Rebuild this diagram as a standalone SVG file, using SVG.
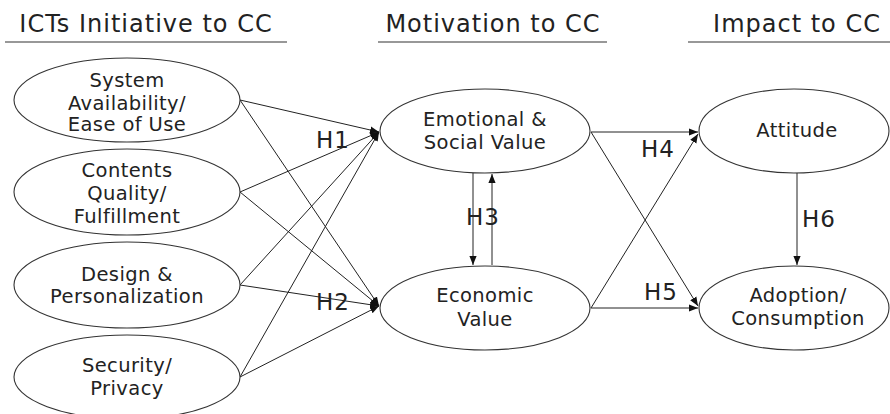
<svg xmlns="http://www.w3.org/2000/svg" width="890" height="414" viewBox="0 0 890 414">
  <defs>
    <marker id="arrow" viewBox="0 0 10 10" refX="10" refY="5" markerWidth="9" markerHeight="9" markerUnits="userSpaceOnUse" orient="auto">
      <path d="M0,1 L10,5 L0,9 Z" fill="#111"/>
    </marker>
    <style>
      .node ellipse { fill: #fff; stroke: #333; stroke-width: 1.1; }
      .node text { font-family: "DejaVu Sans", "Noto Sans", sans-serif; font-size: 19.5px; letter-spacing: 0.4px; fill: #222; text-anchor: middle; }
      .hdr text { font-family: "DejaVu Sans", "Noto Sans", sans-serif; font-size: 24px; letter-spacing: 1px; fill: #222; text-anchor: middle; }
      .hdr line { stroke: #333; stroke-width: 1.2; }
      .lbl { font-family: "DejaVu Sans", "Noto Sans", sans-serif; font-size: 23px; letter-spacing: 1px; fill: #222; }
      #connectors line { stroke: #222; stroke-width: 1; fill: none; }
      #connectors .arr { marker-end: url(#arrow); }
    </style>
  </defs>
  <rect width="890" height="414" fill="#fff"/>

  <!-- column headings -->
  <g class="hdr" id="headings">
    <text x="146" y="32">ICTs Initiative to CC</text>
    <line x1="5" y1="42" x2="287" y2="42"/>
    <text x="493" y="32">Motivation to CC</text>
    <line x1="378" y1="42" x2="607" y2="42"/>
    <text x="797" y="32">Impact to CC</text>
    <line x1="688" y1="42" x2="890" y2="42"/>
  </g>

  <!-- connectors -->
  <g id="connectors">
    <line class="arr" x1="240" y1="100" x2="379" y2="132"/>
    <line class="arr" x1="240" y1="100" x2="379" y2="306"/>
    <line class="arr" x1="240" y1="192" x2="379" y2="132"/>
    <line class="arr" x1="240" y1="192" x2="379" y2="306"/>
    <line class="arr" x1="240" y1="285" x2="379" y2="132"/>
    <line class="arr" x1="240" y1="285" x2="379" y2="306"/>
    <line class="arr" x1="240" y1="377" x2="379" y2="132"/>
    <line class="arr" x1="240" y1="377" x2="379" y2="306"/>
    <line class="arr" x1="473" y1="173" x2="473" y2="265"/>
    <line class="arr" x1="492" y1="265" x2="492" y2="174"/>
    <line class="arr" x1="591" y1="132" x2="698" y2="132"/>
    <line class="arr" x1="591" y1="308" x2="698" y2="308"/>
    <line class="arr" x1="591" y1="132" x2="698" y2="306"/>
    <line class="arr" x1="591" y1="308" x2="698" y2="134"/>
    <line class="arr" x1="797" y1="173" x2="797" y2="265"/>
  </g>

  <!-- hypothesis labels -->
  <g id="labels">
    <text class="lbl" x="316" y="148">H1</text>
    <text class="lbl" x="316" y="310">H2</text>
    <text class="lbl" x="466" y="225">H3</text>
    <text class="lbl" x="641" y="157">H4</text>
    <text class="lbl" x="644" y="300">H5</text>
    <text class="lbl" x="802" y="227">H6</text>
  </g>

  <!-- ICT initiative constructs -->
  <g class="node" id="system-availability">
    <ellipse cx="127" cy="100" rx="113" ry="42"/>
    <text x="127" y="87">System</text>
    <text x="127" y="110">Availability/</text>
    <text x="127" y="131">Ease of Use</text>
  </g>
  <g class="node" id="contents-quality">
    <ellipse cx="127" cy="192" rx="113" ry="43"/>
    <text x="127" y="177">Contents</text>
    <text x="127" y="200">Quality/</text>
    <text x="127" y="223">Fulfillment</text>
  </g>
  <g class="node" id="design-personalization">
    <ellipse cx="127" cy="285" rx="113" ry="43"/>
    <text x="127" y="281">Design &amp;</text>
    <text x="127" y="303">Personalization</text>
  </g>
  <g class="node" id="security-privacy">
    <ellipse cx="127" cy="377" rx="113" ry="42"/>
    <text x="127" y="372">Security/</text>
    <text x="127" y="395">Privacy</text>
  </g>

  <!-- motivation constructs -->
  <g class="node" id="emotional-social">
    <ellipse cx="485" cy="131" rx="105" ry="42"/>
    <text x="485" y="126">Emotional &amp;</text>
    <text x="485" y="149">Social Value</text>
  </g>
  <g class="node" id="economic-value">
    <ellipse cx="485" cy="308" rx="105" ry="42"/>
    <text x="485" y="302">Economic</text>
    <text x="485" y="326">Value</text>
  </g>

  <!-- impact constructs -->
  <g class="node" id="attitude">
    <ellipse cx="794" cy="131" rx="95" ry="42"/>
    <text x="797" y="137">Attitude</text>
  </g>
  <g class="node" id="adoption">
    <ellipse cx="794" cy="308" rx="95" ry="42"/>
    <text x="798" y="302">Adoption/</text>
    <text x="798" y="325">Consumption</text>
  </g>
</svg>
